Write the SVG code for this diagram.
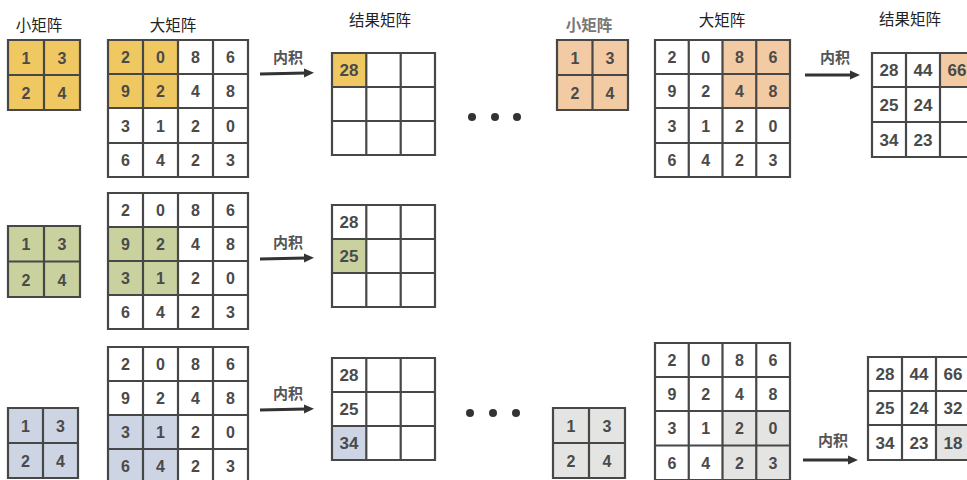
<svg xmlns="http://www.w3.org/2000/svg" width="967" height="480" viewBox="0 0 967 480">
<defs>
<style>
.g{fill:none;stroke:#474747;stroke-width:2.2}
.n{font-family:"Liberation Sans",Arial,sans-serif;font-weight:bold;font-size:16px;fill:#4a4a4a;text-anchor:middle}
.r{font-family:"Liberation Sans",Arial,sans-serif;font-weight:bold;font-size:17px;fill:#4a4a4a;text-anchor:middle}
.t{font-family:"Noto Sans CJK SC",sans-serif;font-size:15.5px;fill:#222;text-anchor:middle}
.t2{font-family:"Noto Sans CJK SC",sans-serif;font-size:15.5px;fill:#777;font-weight:bold;text-anchor:middle}
.lb{font-family:"Noto Sans CJK SC",sans-serif;font-size:15px;fill:#555;font-weight:bold;text-anchor:middle}
.ar{stroke:#333;stroke-width:3;fill:none}
.y{fill:#EFC862}.gr{fill:#C9D29F}.b{fill:#CDD4E4}.o{fill:#F2CBA5}.gy{fill:#E4E4E2}
.dot{fill:#333}
</style>
<marker id="ah" markerWidth="10" markerHeight="10" refX="2" refY="5" orient="auto" markerUnits="userSpaceOnUse">
<path d="M0,0.5 L10,5 L0,9.5 Z" fill="#333"/>
</marker>
</defs>
<rect width="967" height="480" fill="#fff"/>

<g id="titles">
<text class="t" x="39" y="31">小矩阵</text>
<text class="t" x="173" y="31">大矩阵</text>
<text class="t" x="380" y="26">结果矩阵</text>
<text class="t2" x="589" y="31">小矩阵</text>
<text class="t" x="722" y="26">大矩阵</text>
<text class="t" x="910" y="25">结果矩阵</text>
</g>

<!-- Row 1 left -->
<g id="small1">
<rect class="y" x="8" y="40" width="72" height="70"/>
<path class="g" d="M8,40H80V110H8Z M44,40V110 M8,75H80"/>
<text class="n" x="26" y="63.5">1</text><text class="n" x="62" y="63.5">3</text>
<text class="n" x="26" y="98.5">2</text><text class="n" x="62" y="98.5">4</text>
</g>
<g id="big1">
<rect class="y" x="108" y="40" width="70" height="68"/>
<path class="g" d="M108,40H248V177H108Z M143,40V177 M178,40V177 M213,40V177 M108,74H248 M108,108H248 M108,143H248"/>
<text class="n" x="125.5" y="62.5">2</text><text class="n" x="160.5" y="62.5">0</text><text class="n" x="195.5" y="62.5">8</text><text class="n" x="230.5" y="62.5">6</text>
<text class="n" x="125.5" y="96.5">9</text><text class="n" x="160.5" y="96.5">2</text><text class="n" x="195.5" y="96.5">4</text><text class="n" x="230.5" y="96.5">8</text>
<text class="n" x="125.5" y="131.5">3</text><text class="n" x="160.5" y="131.5">1</text><text class="n" x="195.5" y="131.5">2</text><text class="n" x="230.5" y="131.5">0</text>
<text class="n" x="125.5" y="165.5">6</text><text class="n" x="160.5" y="165.5">4</text><text class="n" x="195.5" y="165.5">2</text><text class="n" x="230.5" y="165.5">3</text>
</g>
<g id="res1">
<rect class="y" x="332" y="53" width="34.3" height="34"/>
<path class="g" d="M332,53H435V155H332Z M366.3,53V155 M400.7,53V155 M332,87H435 M332,121H435"/>
<text class="r" x="349" y="76">28</text>
</g>

<!-- Row 2 -->
<g id="small2">
<rect class="gr" x="8" y="226" width="72" height="71"/>
<path class="g" d="M8,226H80V297H8Z M44,226V297 M8,261.5H80"/>
<text class="n" x="26" y="249.5">1</text><text class="n" x="62" y="249.5">3</text>
<text class="n" x="26" y="285.5">2</text><text class="n" x="62" y="285.5">4</text>
</g>
<g id="big2">
<rect class="gr" x="108" y="227" width="70" height="68"/>
<path class="g" d="M108,193H248V329H108Z M143,193V329 M178,193V329 M213,193V329 M108,227H248 M108,261H248 M108,295H248"/>
<text class="n" x="125.5" y="215.5">2</text><text class="n" x="160.5" y="215.5">0</text><text class="n" x="195.5" y="215.5">8</text><text class="n" x="230.5" y="215.5">6</text>
<text class="n" x="125.5" y="249.5">9</text><text class="n" x="160.5" y="249.5">2</text><text class="n" x="195.5" y="249.5">4</text><text class="n" x="230.5" y="249.5">8</text>
<text class="n" x="125.5" y="283.5">3</text><text class="n" x="160.5" y="283.5">1</text><text class="n" x="195.5" y="283.5">2</text><text class="n" x="230.5" y="283.5">0</text>
<text class="n" x="125.5" y="317.5">6</text><text class="n" x="160.5" y="317.5">4</text><text class="n" x="195.5" y="317.5">2</text><text class="n" x="230.5" y="317.5">3</text>
</g>
<g id="res2">
<rect class="gr" x="332" y="239" width="34.3" height="34"/>
<path class="g" d="M332,205H435V307H332Z M366.3,205V307 M400.7,205V307 M332,239H435 M332,273H435"/>
<text class="r" x="349" y="228">28</text>
<text class="r" x="349" y="262">25</text>
</g>

<!-- Row 3 -->
<g id="small3">
<rect class="b" x="8" y="408" width="70" height="70"/>
<path class="g" d="M8,408H78V478H8Z M43,408V478 M8,443H78"/>
<text class="n" x="25.5" y="431.5">1</text><text class="n" x="60.5" y="431.5">3</text>
<text class="n" x="25.5" y="466.5">2</text><text class="n" x="60.5" y="466.5">4</text>
</g>
<g id="big3">
<rect class="b" x="108" y="415" width="70" height="68"/>
<path class="g" d="M108,347H248V483H108Z M143,347V483 M178,347V483 M213,347V483 M108,381H248 M108,415H248 M108,449H248"/>
<text class="n" x="125.5" y="369.5">2</text><text class="n" x="160.5" y="369.5">0</text><text class="n" x="195.5" y="369.5">8</text><text class="n" x="230.5" y="369.5">6</text>
<text class="n" x="125.5" y="403.5">9</text><text class="n" x="160.5" y="403.5">2</text><text class="n" x="195.5" y="403.5">4</text><text class="n" x="230.5" y="403.5">8</text>
<text class="n" x="125.5" y="437.5">3</text><text class="n" x="160.5" y="437.5">1</text><text class="n" x="195.5" y="437.5">2</text><text class="n" x="230.5" y="437.5">0</text>
<text class="n" x="125.5" y="471.5">6</text><text class="n" x="160.5" y="471.5">4</text><text class="n" x="195.5" y="471.5">2</text><text class="n" x="230.5" y="471.5">3</text>
</g>
<g id="res3">
<rect class="b" x="332" y="426" width="34.3" height="34"/>
<path class="g" d="M332,358H435V460H332Z M366.3,358V460 M400.7,358V460 M332,392H435 M332,426H435"/>
<text class="r" x="349" y="381">28</text>
<text class="r" x="349" y="415">25</text>
<text class="r" x="349" y="449">34</text>
</g>

<!-- Right top -->
<g id="small4">
<rect class="o" x="557" y="40" width="71" height="70"/>
<path class="g" d="M557,40H628V110H557Z M592.5,40V110 M557,75H628"/>
<text class="n" x="575" y="63.5">1</text><text class="n" x="610" y="63.5">3</text>
<text class="n" x="575" y="98.5">2</text><text class="n" x="610" y="98.5">4</text>
</g>
<g id="big4">
<rect class="o" x="722.5" y="40" width="67.5" height="68"/>
<path class="g" d="M655,40H790V177H655Z M688.75,40V177 M722.5,40V177 M756.25,40V177 M655,74H790 M655,108H790 M655,143H790"/>
<text class="n" x="672" y="62.5">2</text><text class="n" x="705.6" y="62.5">0</text><text class="n" x="739.4" y="62.5">8</text><text class="n" x="773" y="62.5">6</text>
<text class="n" x="672" y="96.5">9</text><text class="n" x="705.6" y="96.5">2</text><text class="n" x="739.4" y="96.5">4</text><text class="n" x="773" y="96.5">8</text>
<text class="n" x="672" y="131.5">3</text><text class="n" x="705.6" y="131.5">1</text><text class="n" x="739.4" y="131.5">2</text><text class="n" x="773" y="131.5">0</text>
<text class="n" x="672" y="165.5">6</text><text class="n" x="705.6" y="165.5">4</text><text class="n" x="739.4" y="165.5">2</text><text class="n" x="773" y="165.5">3</text>
</g>
<g id="res4">
<rect class="o" x="940" y="53" width="34" height="34"/>
<path class="g" d="M974,53H872V157H974 M906,53V157 M940,53V157 M872,87H974 M872,122H974"/>
<text class="r" x="889" y="76">28</text><text class="r" x="923" y="76">44</text><text class="r" x="957" y="76">66</text>
<text class="r" x="889" y="110.5">25</text><text class="r" x="923" y="110.5">24</text>
<text class="r" x="889" y="145.5">34</text><text class="r" x="923" y="145.5">23</text>
</g>

<!-- Right bottom -->
<g id="small5">
<rect class="gy" x="553" y="408" width="72" height="70"/>
<path class="g" d="M553,408H625V478H553Z M589,408V478 M553,443H625"/>
<text class="n" x="571" y="431.5">1</text><text class="n" x="607" y="431.5">3</text>
<text class="n" x="571" y="466.5">2</text><text class="n" x="607" y="466.5">4</text>
</g>
<g id="big5">
<rect class="gy" x="722.5" y="411" width="67.5" height="69"/>
<path class="g" d="M655,343H790V480H655Z M688.75,343V480 M722.5,343V480 M756.25,343V480 M655,377H790 M655,411H790 M655,445.5H790"/>
<text class="n" x="672" y="365.5">2</text><text class="n" x="705.6" y="365.5">0</text><text class="n" x="739.4" y="365.5">8</text><text class="n" x="773" y="365.5">6</text>
<text class="n" x="672" y="399.5">9</text><text class="n" x="705.6" y="399.5">2</text><text class="n" x="739.4" y="399.5">4</text><text class="n" x="773" y="399.5">8</text>
<text class="n" x="672" y="433.5">3</text><text class="n" x="705.6" y="433.5">1</text><text class="n" x="739.4" y="433.5">2</text><text class="n" x="773" y="433.5">0</text>
<text class="n" x="672" y="468.5">6</text><text class="n" x="705.6" y="468.5">4</text><text class="n" x="739.4" y="468.5">2</text><text class="n" x="773" y="468.5">3</text>
</g>
<g id="res5">
<rect class="gy" x="936" y="425" width="34" height="35"/>
<path class="g" d="M970,357H868V460H970 M902,357V460 M936,357V460 M868,391H970 M868,425H970"/>
<text class="r" x="885" y="380">28</text><text class="r" x="919" y="380">44</text><text class="r" x="953" y="380">66</text>
<text class="r" x="885" y="414">25</text><text class="r" x="919" y="414">24</text><text class="r" x="953" y="414">32</text>
<text class="r" x="885" y="448.5">34</text><text class="r" x="919" y="448.5">23</text><text class="r" x="953" y="448.5">18</text>
</g>

<g id="dots">
<circle class="dot" cx="472" cy="117" r="4"/><circle class="dot" cx="495" cy="117" r="4"/><circle class="dot" cx="517" cy="117" r="4"/>
<circle class="dot" cx="470" cy="413" r="4"/><circle class="dot" cx="493" cy="413" r="4"/><circle class="dot" cx="516" cy="413" r="4"/>
</g>

<g id="connectors">
<line class="ar" x1="260" y1="74" x2="306" y2="73" marker-end="url(#ah)"/>
<text class="lb" x="288" y="63">内积</text>
<line class="ar" x1="260" y1="259" x2="306" y2="258" marker-end="url(#ah)"/>
<text class="lb" x="288" y="248">内积</text>
<line class="ar" x1="260" y1="410" x2="306" y2="409" marker-end="url(#ah)"/>
<text class="lb" x="288" y="399">内积</text>
<line class="ar" x1="805" y1="75" x2="852" y2="75" marker-end="url(#ah)"/>
<text class="lb" x="835" y="63">内积</text>
<line class="ar" x1="803" y1="460" x2="850" y2="460" marker-end="url(#ah)"/>
<text class="lb" x="833" y="446">内积</text>
</g>
</svg>
